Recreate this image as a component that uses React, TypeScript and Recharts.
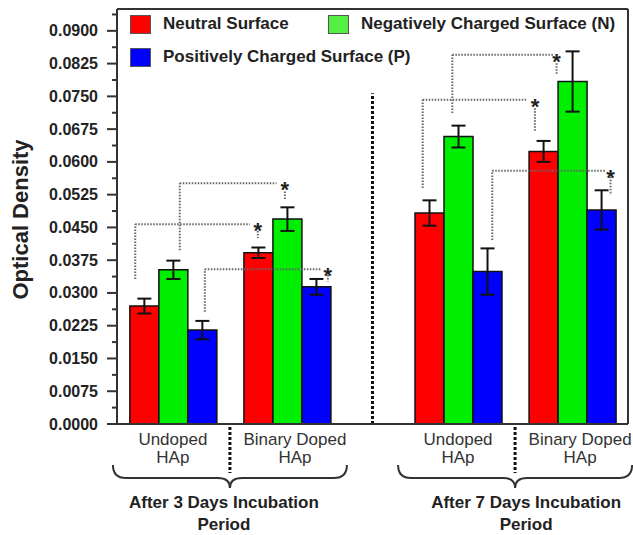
import React from 'react';
import { ComposedChart, Bar, ErrorBar, XAxis, YAxis, ReferenceLine, Scatter, Legend } from 'recharts';

// group positions on a numeric x axis (gap between incubation periods)
const groupX = [0, 1, 2.5, 3.5];
const groupLabels = [
  ['Undoped', 'HAp'],
  ['Binary Doped', 'HAp'],
  ['Undoped', 'HAp'],
  ['Binary Doped', 'HAp'],
];
const periodX = [0.5, 3];
const periodLabels = [
  ['After 3 Days Incubation', 'Period'],
  ['After 7 Days Incubation', 'Period'],
];

const seriesNames = ['Neutral Surface', 'Negatively Charged Surface (N)', 'Positively Charged Surface (P)'];

const neutral = [0.027, 0.0392, 0.0483, 0.0624];
const neutralErr = [0.0017, 0.0012, 0.0029, 0.0024];
const negative = [0.0353, 0.0469, 0.0658, 0.0784];
const negativeErr = [0.0021, 0.0027, 0.0025, 0.0069];
const positive = [0.0215, 0.0314, 0.0349, 0.049];
const positiveErr = [0.0021, 0.0018, 0.0053, 0.0045];

const yMajorTicks = [0, 0.0075, 0.015, 0.0225, 0.03, 0.0375, 0.045, 0.0525, 0.06, 0.0675, 0.075, 0.0825, 0.09];
const yMinorTicks = [0.00375, 0.01125, 0.01875, 0.02625, 0.03375, 0.04125, 0.04875, 0.05625, 0.06375, 0.07125, 0.07875, 0.08625, 0.09375];

// significance brackets (*)
const sigFromX = [-0.33, 0.06, 0.28, 2.19, 2.45, 2.8];
const sigFromY = [0.0332, 0.0398, 0.0257, 0.054, 0.0712, 0.0421];
const sigLineY = [0.0457, 0.0551, 0.0354, 0.0742, 0.0845, 0.058];
const sigToX = [0.675, 0.909, 1.304, 3.101, 3.332, 3.787];
const sigStarX = [0.745, 0.982, 1.359, 3.174, 3.364, 3.837];
const sigStemTop = [0.0442, 0.0532, 0.0341, 0.0723, 0.0826, 0.0566];
const sigStemBottom = [0.0426, 0.0515, 0.0326, 0.0669, 0.0799, 0.0524];

const dividerX = 1.75;
const dividerTop = 0.0757;

const X_DOMAIN: [number, number] = [-0.49, 3.99];
const Y_DOMAIN: [number, number] = [0, 0.095];

const chartData = groupX.map((x, i) => ({
  x,
  neutral: neutral[i],
  neutralErr: neutralErr[i],
  negative: negative[i],
  negativeErr: negativeErr[i],
  positive: positive[i],
  positiveErr: positiveErr[i],
}));

const starData = sigStarX.map((x, i) => ({ x, y: sigLineY[i] }));

const FONT = '"Liberation Sans", Arial, Helvetica, sans-serif';
const BAR_COLORS = ['#ff0000', '#00ee00', '#0000ff'];
const LEGEND_COLORS = ['#ff0000', '#55ee44', '#0000ff'];
const SIG_STYLE = { stroke: '#666', strokeWidth: 2, strokeDasharray: '1.5 1.5' };

const YTick = (props: any) => {
  const { x, y, payload } = props;
  const major = yMajorTicks.includes(payload.value);
  return (
    <g>
      <line x1={x - (major ? 10 : 5)} x2={x} y1={y} y2={y} stroke="#333" strokeWidth={2} />
      {major && (
        <text x={x - 19} y={y} dy={5.5} textAnchor="end" fontFamily={FONT} fontSize={16} fontWeight="bold" fill="#222">
          {payload.value.toFixed(4)}
        </text>
      )}
    </g>
  );
};

const XTick = (props: any) => {
  const { x, y, payload } = props;
  const gi = groupX.indexOf(payload.value);
  if (gi >= 0) {
    const [l1, l2] = groupLabels[gi];
    const dx = l1 === 'Undoped' ? 0 : 8;
    return (
      <g fontFamily={FONT} fontSize={17} fill="#333" textAnchor="middle">
        <text x={x + dx} y={y + 21}>{l1}</text>
        <text x={x + dx} y={y + 39}>{l2}</text>
      </g>
    );
  }
  const pi = periodX.indexOf(payload.value);
  if (pi < 0) return null;
  const [t1, t2] = periodLabels[pi];
  const tdx = pi === 0 ? -6 : 11;
  const w = 117;
  const brace = `M ${x - w} ${y + 41} Q ${x - w} ${y + 54} ${x - w + 13} ${y + 54} L ${x - 12} ${y + 54} Q ${x} ${y + 54} ${x} ${y + 64} Q ${x} ${y + 54} ${x + 12} ${y + 54} L ${x + w - 13} ${y + 54} Q ${x + w} ${y + 54} ${x + w} ${y + 41}`;
  return (
    <g>
      <line x1={x} x2={x} y1={y + 3} y2={y + 49} stroke="#111" strokeWidth={3} strokeDasharray="3 2" />
      <path d={brace} fill="none" stroke="#333" strokeWidth={2} />
      <g fontFamily={FONT} fontSize={17} fontWeight="bold" fill="#222" textAnchor="middle">
        <text x={x + tdx} y={y + 84}>{t1}</text>
        <text x={x + tdx} y={y + 106}>{t2}</text>
      </g>
    </g>
  );
};

const YLabel = (props: any) => {
  const { viewBox } = props;
  const cx = viewBox.x + 28;
  const cy = viewBox.y + viewBox.height / 2 + 3;
  return (
    <text x={cx} y={cy} transform={`rotate(-90 ${cx} ${cy})`} textAnchor="middle" fontFamily={FONT} fontSize={22} fontWeight="bold" fill="#222">
      Optical Density
    </text>
  );
};

const Star = (props: any) => (
  <text x={props.cx} y={props.cy + 14} textAnchor="middle" fontFamily={FONT} fontSize={22} fontWeight="bold" fill="#222">
    *
  </text>
);

const LegendContent = () => (
  <div style={{ position: 'relative', width: 500, height: 56, fontFamily: FONT, fontWeight: 700, fontSize: 17, color: '#222' }}>
    {seriesNames.map((name, i) => (
      <div
        key={name}
        style={{ position: 'absolute', left: i === 1 ? 199 : 1, top: i === 2 ? 33 : 0, display: 'flex', alignItems: 'center', whiteSpace: 'nowrap' }}
      >
        <span style={{ display: 'inline-block', width: 19, height: 17, background: LEGEND_COLORS[i], border: '1px solid #555', marginRight: 12 }} />
        <span>{name}</span>
      </div>
    ))}
  </div>
);

export default function App() {
  return (
    <div style={{ position: 'absolute', left: 0, top: 0, fontFamily: FONT }}>
      <ComposedChart width={633} height={535} data={chartData} margin={{ top: 9, right: 5, bottom: 0, left: 0 }} barGap={0}>
        <XAxis
          dataKey="x"
          type="number"
          domain={X_DOMAIN}
          ticks={[...groupX, ...periodX].sort((a, b) => a - b)}
          interval={0}
          tick={<XTick />}
          tickLine={false}
          tickSize={0}
          tickMargin={0}
          height={111}
          axisLine={{ stroke: '#333', strokeWidth: 2 }}
        />
        <XAxis xAxisId="stars" dataKey="x" type="number" domain={X_DOMAIN} hide />
        <YAxis
          type="number"
          domain={Y_DOMAIN}
          ticks={[...yMajorTicks, ...yMinorTicks].sort((a, b) => a - b)}
          interval={0}
          tick={<YTick />}
          tickLine={false}
          tickSize={0}
          tickMargin={0}
          width={117}
          axisLine={{ stroke: '#333', strokeWidth: 2 }}
          label={YLabel}
        />
        <Legend layout="horizontal" verticalAlign="middle" align="center" wrapperStyle={{ top: 14, left: 129, width: 500, height: 56 }} content={<LegendContent />} />
        <Bar dataKey="neutral" name={seriesNames[0]} fill={BAR_COLORS[0]} stroke="#111" strokeWidth={1.5} barSize={29} isAnimationActive={false}>
          <ErrorBar dataKey="neutralErr" width={7} stroke="#111" strokeWidth={2} direction="y" />
        </Bar>
        <Bar dataKey="negative" name={seriesNames[1]} fill={BAR_COLORS[1]} stroke="#111" strokeWidth={1.5} barSize={29} isAnimationActive={false}>
          <ErrorBar dataKey="negativeErr" width={7} stroke="#111" strokeWidth={2} direction="y" />
        </Bar>
        <Bar dataKey="positive" name={seriesNames[2]} fill={BAR_COLORS[2]} stroke="#111" strokeWidth={1.5} barSize={29} isAnimationActive={false}>
          <ErrorBar dataKey="positiveErr" width={7} stroke="#111" strokeWidth={2} direction="y" />
        </Bar>
        <ReferenceLine y={Y_DOMAIN[1]} stroke="#333" strokeWidth={2} />
        <ReferenceLine x={X_DOMAIN[1]} stroke="#333" strokeWidth={2} />
        <ReferenceLine
          segment={[{ x: dividerX, y: 0 }, { x: dividerX, y: dividerTop }]}
          stroke="#111"
          strokeWidth={3}
          strokeDasharray="3 2"
        />
        {sigFromX.map((fx, i) => (
          <ReferenceLine key={`v${i}`} segment={[{ x: fx, y: sigFromY[i] }, { x: fx, y: sigLineY[i] }]} {...SIG_STYLE} />
        ))}
        {sigFromX.map((fx, i) => (
          <ReferenceLine key={`h${i}`} segment={[{ x: fx, y: sigLineY[i] }, { x: sigToX[i], y: sigLineY[i] }]} {...SIG_STYLE} />
        ))}
        {sigStarX.map((sx, i) => (
          <ReferenceLine key={`s${i}`} segment={[{ x: sx, y: sigStemTop[i] }, { x: sx, y: sigStemBottom[i] }]} {...SIG_STYLE} />
        ))}
        <Scatter xAxisId="stars" data={starData} dataKey="y" shape={<Star />} legendType="none" isAnimationActive={false} />
      </ComposedChart>
    </div>
  );
}
